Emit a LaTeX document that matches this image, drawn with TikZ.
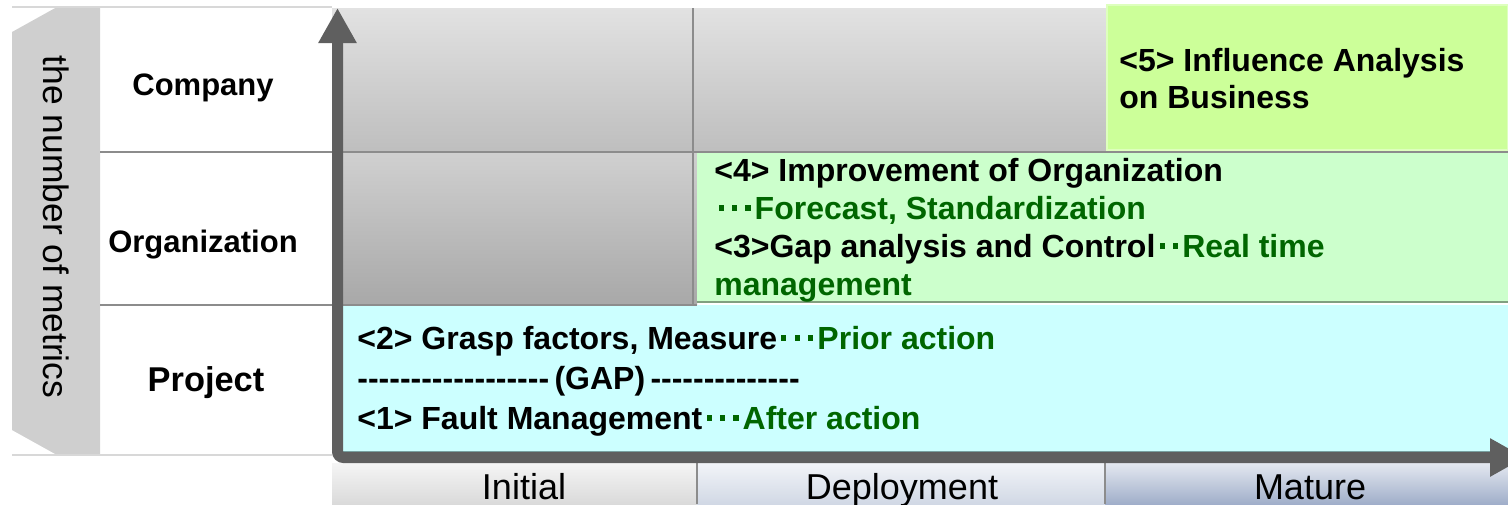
\documentclass[tikz,border=0pt]{standalone}
\usepackage{fontspec}
\setmainfont{Liberation Sans}
\usepackage{xcolor}
\usetikzlibrary{arrows.meta,positioning}

\definecolor{axisgray}{HTML}{5F5F5F}
\definecolor{sidegray}{HTML}{CFCFCF}
\definecolor{linegray}{HTML}{8C8C8C}
\definecolor{paleline}{HTML}{D8D8D8}
\definecolor{projcyan}{HTML}{CCFFFF}
\definecolor{orggreen}{HTML}{CCFFCC}
\definecolor{compgreen}{HTML}{CCFF99}
\definecolor{compedge}{RGB}{222,255,190}
\definecolor{orgedge}{RGB}{128,160,128}
\definecolor{projedge}{RGB}{120,160,160}
\definecolor{darkgreen}{RGB}{0,102,0}
\definecolor{cellhi}{RGB}{226,226,226}
\definecolor{cellmid}{RGB}{190,190,190}
\definecolor{celllo}{RGB}{168,168,168}
\definecolor{orgtop}{RGB}{208,208,208}
\definecolor{stageA}{RGB}{245,245,245}
\definecolor{stageAb}{RGB}{214,214,214}
\definecolor{stageB}{RGB}{242,244,248}
\definecolor{stageBb}{RGB}{204,212,226}
\definecolor{stageC}{RGB}{228,232,240}
\definecolor{stageCb}{RGB}{150,166,196}

% small square dot used between the phrases
\newcommand{\nakaguro}{\hbox to 0.42em{\hss\rule[0.27em]{0.16em}{0.16em}\hss}}
% a single hyphen, kept apart so no dash ligature is formed
\newcommand{\hy}{\mbox{-}}

\begin{document}
\begin{tikzpicture}[
    x=0.5pt, y=-0.5pt,
    rowlabel/.style={font=\bfseries\fontsize{15.5}{18}\selectfont, inner sep=0},
    stagelabel/.style={font=\fontsize{18}{20}\selectfont, inner sep=0, anchor=base},
    content/.style={font=\bfseries\fontsize{16}{19}\selectfont, align=left, anchor=west, inner sep=0},
    sepline/.style={draw=linegray, line width=1pt},
    axis/.style={draw=axisgray, line width=5.5pt, rounded corners=3pt,
        {Triangle[length=17.5pt,width=18pt]}-{Triangle[length=17.5pt,width=18pt]}}
]
\useasboundingbox (0,0) rectangle (1508,504);

% left side: label band and row names
\fill[sidegray] (12,32) -- (57,7) -- (100,7) -- (100,455) -- (57,455) -- (12,430) -- cycle;
\draw[paleline, line width=1pt] (12,7) -- (332,7);
\draw[paleline, line width=1pt] (12,455) -- (332,455);
\node[rotate=-90, font=\fontsize{17.7}{20}\selectfont] (metrics) at (56,227) {the number of metrics};

% grey (empty) cells
\shade[top color=cellhi, bottom color=cellmid] (332,8) rectangle (1107,152);
\shade[top color=orgtop, bottom color=celllo] (332,152) rectangle (697,305);
\draw[linegray, line width=1pt] (693,8) -- (693,305);

% coloured areas
\fill[compgreen, draw=compedge, line width=1pt] (1107,5) rectangle (1508,150);
\fill[orggreen] (697,153) rectangle (1508,301);
\draw[orgedge, line width=1pt] (697,301.5) -- (1508,301.5);
\fill[projcyan] (343,305) rectangle (1508,452);
\draw[projedge, line width=1pt] (343,451.5) -- (1508,451.5);

% row separators
\draw[sepline] (100,152) -- (1508,152);
\draw[sepline] (100,305) -- (697,305);

\node[rowlabel] (company) at (203,88) {Company};
\node[rowlabel] (organization) at (203,245) {Organization};
\node[rowlabel, font=\bfseries\fontsize{17.2}{20}\selectfont] (project) at (206,383) {Project};

% stages along the bottom
\shade[top color=stageA, bottom color=stageAb] (332,463) rectangle (697,510);
\shade[top color=stageB, bottom color=stageBb] (697,463) rectangle (1105,510);
\shade[top color=stageC, bottom color=stageCb] (1105,463) rectangle (1508,510);
\draw[linegray, line width=1pt] (697,463) -- (697,504);
\draw[linegray, line width=1pt] (1105,463) -- (1105,504);
\node[stagelabel] (initial) at (524,499) {Initial};
\node[stagelabel] (deployment) at (902,499) {Deployment};
\node[stagelabel] (mature) at (1310,499) {Mature};

% axes
\coordinate (ytip) at (337.5,8);
\coordinate (origin) at (337.5,457.5);
\coordinate (xtip) at (1525,457.5);
\path[axis] (ytip) -- (origin) -- (xtip);

% contents
\node[content, font=\bfseries\fontsize{16}{18.5}\selectfont] (business) at (1119,79)
    {<5> Influence Analysis\\on Business};
\node[content] (improve) at (714,230)
    {<4> Improvement of Organization\\
     \textcolor{darkgreen}{\nakaguro\nakaguro\nakaguro Forecast, Standardization}\\
     <3>Gap analysis and Control\textcolor{darkgreen}{\nakaguro\nakaguro Real time}\\
     \textcolor{darkgreen}{management}};
\node[content, font=\bfseries\fontsize{16}{20}\selectfont] (grasp) at (357,381)
    {<2> Grasp factors, Measure\textcolor{darkgreen}{\nakaguro\nakaguro\nakaguro Prior action}\\
     \hy\hy\hy\hy\hy\hy\hy\hy\hy\hy\hy\hy\hy\hy\hy\hy\hy\hy\,(GAP)\,\hy\hy\hy\hy\hy\hy\hy\hy\hy\hy\hy\hy\hy\hy\\
     <1> Fault Management\textcolor{darkgreen}{\nakaguro\nakaguro\nakaguro After action}};

\end{tikzpicture}
\end{document}
